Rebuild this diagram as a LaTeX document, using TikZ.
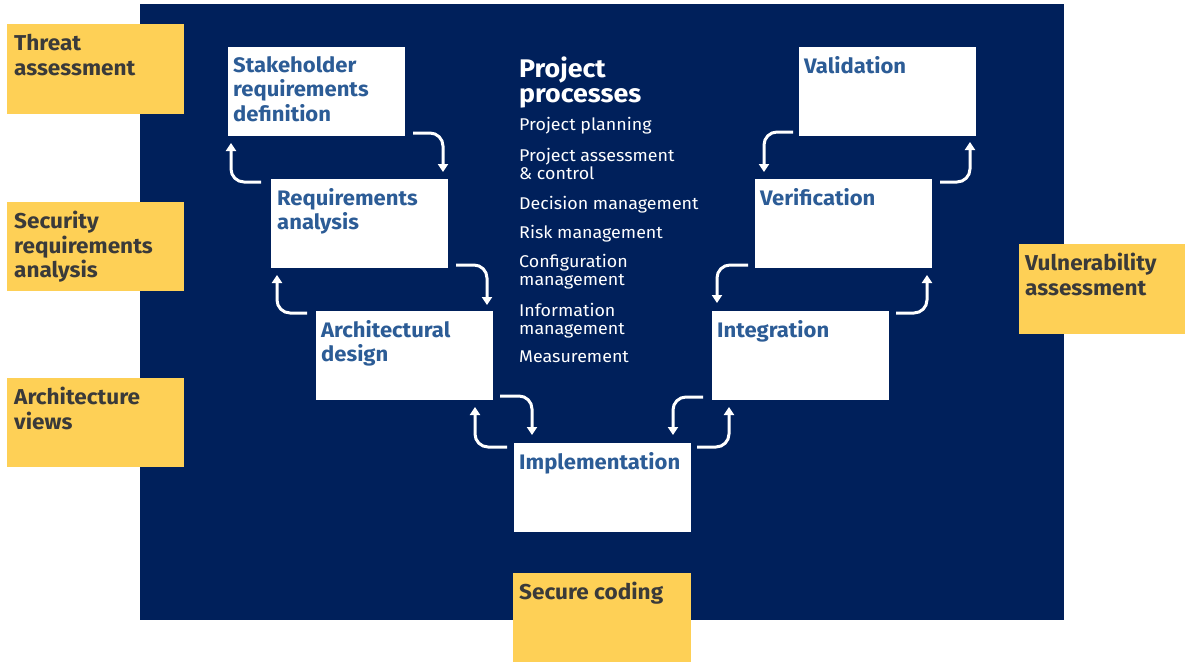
\documentclass[tikz,border=0pt]{standalone}
\usepackage{fontspec}
\setmainfont{Fira Sans}
\newfontfamily\widesans[FakeStretch=1.05]{Fira Sans}
\usetikzlibrary{arrows.meta,calc}
\definecolor{navy}{RGB}{0,32,91}
\definecolor{sunny}{RGB}{254,208,86}
\definecolor{boxblue}{RGB}{44,92,150}
\definecolor{darktext}{RGB}{58,58,58}
\tikzset{
  stagebox/.style={fill=white, draw=none, minimum width=177pt, minimum height=89pt, inner sep=0pt, outer sep=0pt, anchor=north west},
  notebox/.style={fill=sunny, draw=none, minimum height=89pt, inner sep=0pt, outer sep=0pt, anchor=north west},
  stagetext/.style={anchor=north west, inner sep=0pt, align=left, text=boxblue, font=\widesans\fontsize{21}{24.5}\selectfont\bfseries},
  notetext/.style={anchor=north west, inner sep=0pt, align=left, text=darktext, font=\widesans\fontsize{21.5}{24.5}\selectfont\bfseries},
  titletext/.style={anchor=north west, inner sep=0pt, align=left, text=white, font=\widesans\fontsize{25.5}{25}\selectfont\bfseries},
  itemtext/.style={anchor=north west, inner sep=0pt, align=left, text=white, font=\widesans\fontsize{17}{18.5}\selectfont},
  flow/.style={draw=white, line width=3pt, rounded corners=13pt, -{Triangle[width=10pt,length=8pt]}}
}
\begin{document}
\begin{tikzpicture}[x=1pt,y=-1pt]
\useasboundingbox (0,0) rectangle (1185,662);
\fill[white] (0,0) rectangle (1185,662);
\fill[navy] (140,4) rectangle (1064,620);
% yellow notes
\node[notebox, minimum width=177pt, minimum height=90pt] (ta) at (7,24) {};
\node[notebox, minimum width=177pt] (sr) at (7,202) {};
\node[notebox, minimum width=177pt] (av) at (7,378) {};
\node[notebox, minimum width=166pt, minimum height=90pt] (vu) at (1019,244) {};
\node[notebox, minimum width=178pt] (sc) at (513,573) {};
\node[notetext] (taT) at ($(ta.north west)+(7,10)$) {Threat\\assessment};
\node[notetext] (srT) at ($(sr.north west)+(7,9)$) {Security\\requirements\\analysis};
\node[notetext] (avT) at ($(av.north west)+(7,9)$) {Architecture\\views};
\node[notetext] (vuT) at ($(vu.north west)+(6,9)$) {Vulnerability\\assessment};
\node[notetext] (scT) at ($(sc.north west)+(6,9)$) {Secure coding};
% stage boxes
\node[stagebox] (sh) at (228,47) {};
\node[stagebox] (ra) at (271,179) {};
\node[stagebox] (ad) at (316,311) {};
\node[stagebox] (im) at (514,443) {};
\node[stagebox] (in) at (712,311) {};
\node[stagebox] (ve) at (755,179) {};
\node[stagebox] (va) at (799,47) {};
\node[stagetext] (shT) at ($(sh.north west)+(5,9)$) {Stakeholder\\requirements\\definition};
\node[stagetext] (raT) at ($(ra.north west)+(6,9)$) {Requirements\\analysis};
\node[stagetext] (adT) at ($(ad.north west)+(5,9)$) {Architectural\\design};
\node[stagetext] (imT) at ($(im.north west)+(5,9)$) {Implementation};
\node[stagetext] (inT) at ($(in.north west)+(5,9)$) {Integration};
\node[stagetext] (veT) at ($(ve.north west)+(5,9)$) {Verification};
\node[stagetext] (vaT) at ($(va.north west)+(5,9)$) {Validation};
% project processes
\node[titletext] (pp) at (519,57) {Project\\processes};
\node[itemtext] (p1) at (519,117) {Project planning};
\node[itemtext] (p2) at (519,148) {Project assessment\\\&\ control};
\node[itemtext] (p3) at (519,196) {Decision management};
\node[itemtext] (p4) at (519,225) {Risk management};
\node[itemtext] (p5) at (519,254) {Configuration\\management};
\node[itemtext] (p6) at (519,303) {Information\\management};
\node[itemtext] (p7) at (519,351) {Measurement};
% left branch arrows
\draw[flow] ($(sh.south east)+(8,-3)$) -| ($(ra.north east)+(-5,-7)$);
\draw[flow] ($(ra.north west)+(-10,3)$) -| ($(sh.south west)+(3,7)$);
\draw[flow] ($(ra.south east)+(8,-3)$) -| ($(ad.north east)+(-6,-6)$);
\draw[flow] ($(ad.north west)+(-9,2)$) -| ($(ra.south west)+(6,7)$);
\draw[flow] ($(ad.south east)+(7,-4)$) -| ($(im.north west)+(18,-8)$);
\draw[flow] ($(im.north west)+(-7,4)$) -| ($(ad.south east)+(-18,7)$);
% right branch arrows
\draw[flow] ($(im.north east)+(6,4)$) -| ($(in.south west)+(17,7)$);
\draw[flow] ($(in.south west)+(-9,-3)$) -| ($(im.north east)+(-18,-8)$);
\draw[flow] ($(in.north east)+(7,2)$) -| ($(ve.south east)+(-5,7)$);
\draw[flow] ($(ve.south west)+(-7,-3)$) -| ($(in.north west)+(5,-8)$);
\draw[flow] ($(ve.north east)+(8,3)$) -| ($(va.south east)+(-6,6)$);
\draw[flow] ($(va.south west)+(-6,-4)$) -| ($(ve.north west)+(9,-7)$);
\end{tikzpicture}
\end{document}
